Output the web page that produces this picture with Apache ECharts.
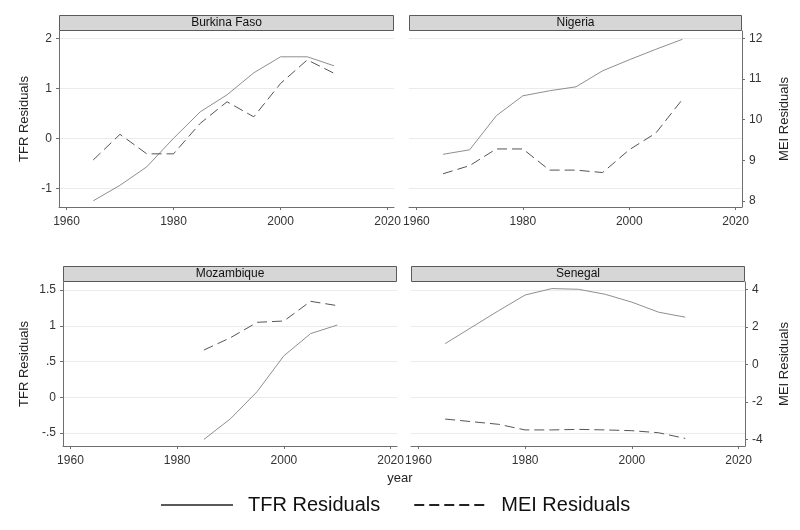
<!DOCTYPE html>
<html>
<head>
<meta charset="utf-8">
<script src="https://cdn.jsdelivr.net/npm/echarts@6/dist/echarts.min.js"></script>
<style>
  html, body { margin: 0; padding: 0; background: #fff; }
  #main { width: 800px; height: 530px; }
</style>
</head>
<body>
<div id="main"></div>
<script>
// data
var countries = ['Burkina Faso', 'Nigeria', 'Mozambique', 'Senegal'];
var years = [1965, 1970, 1975, 1980, 1985, 1990, 1995, 2000, 2005, 2010];

var tfrBurkina = [-1.25, -0.94, -0.57, 0.0, 0.53, 0.87, 1.31, 1.63, 1.63, 1.45];
var meiBurkina = [9.01, 9.64, 9.16, 9.16, 9.91, 10.44, 10.07, 10.89, 11.47, 11.14];
var tfrNigeria = [-0.32, -0.23, 0.45, 0.85, 0.95, 1.03, 1.35, 1.57, 1.78, 1.98];
var meiNigeria = [8.67, 8.87, 9.28, 9.28, 8.76, 8.76, 8.70, 9.26, 9.67, 10.5];
var tfrMozambique = [null, null, null, null, -0.59, -0.30, 0.08, 0.58, 0.89, 1.01];
var meiMozambique = [null, null, null, null, 0.76, 1.42, 2.24, 2.31, 3.36, 3.13];
var tfrSenegal = [0.75, 0.98, 1.21, 1.43, 1.52, 1.51, 1.44, 1.33, 1.19, 1.12];
var meiSenegal = [-2.92, -3.06, -3.2, -3.5, -3.5, -3.47, -3.5, -3.54, -3.65, -3.95];

var xTicks = [1960, 1980, 2000, 2020];
var tfrTicksTop = [-1, 0, 1, 2];
var meiTicksTop = [8, 9, 10, 11, 12];
var tfrTicksBottom = [-0.5, 0, 0.5, 1, 1.5];
var meiTicksBottom = [-4, -2, 0, 2, 4];

var tfrData = [tfrBurkina, tfrNigeria, tfrMozambique, tfrSenegal];
var meiData = [meiBurkina, meiNigeria, meiMozambique, meiSenegal];

var FONT = '"Liberation Sans", Arial, sans-serif';
var AXIS = '#6e6e6e';

// panel boxes (plot regions)
var panels = [
    { left: 59, top: 31, width: 335, height: 176 },
    { left: 409, top: 31, width: 333, height: 176 },
    { left: 63, top: 282, width: 334, height: 164 },
    { left: 411, top: 282, width: 334, height: 164 }
];
// y ranges for each row
var rows = [
    { tMin: -1.374, tMax: 2.146, mMin: 7.853, mMax: 12.18, tTicks: tfrTicksTop, mTicks: meiTicksTop, tGap: 28, mGap: 36 },
    { tMin: -0.682, tMax: 1.612, mMin: -4.357, mMax: 4.39, tTicks: tfrTicksBottom, mTicks: meiTicksBottom, tGap: 32, mGap: 33 }
];

function stataNum(v) {
    return String(v).replace(/^(-?)0\./, '$1.');
}
function pairs(arr) {
    var out = [];
    for (var i = 0; i < years.length; i++) {
        out.push([years[i], arr[i]]);
    }
    return out;
}

var grids = [], xAxes = [], yAxes = [], series = [], graphics = [];

for (var i = 0; i < 4; i++) {
    var p = panels[i];
    var r = rows[Math.floor(i / 2)];
    var isLeft = (i % 2 === 0);

    grids.push({ left: p.left, top: p.top, width: p.width, height: p.height });

    xAxes.push({
        type: 'value', gridIndex: i, min: 1958.6, max: 2021.2,
        axisLine: { show: true, onZero: false, lineStyle: { color: AXIS } },
        axisTick: { show: true, length: 3, customValues: xTicks, lineStyle: { color: AXIS } },
        axisLabel: { customValues: xTicks, margin: 9, color: '#333', fontSize: 12, fontFamily: FONT,
            formatter: function (v) { return String(v); } },
        splitLine: { show: false }
    });

    // TFR (left) axis, gives the grid lines
    yAxes.push({
        type: 'value', gridIndex: i, position: 'left', min: r.tMin, max: r.tMax,
        name: isLeft ? 'TFR Residuals' : '', nameLocation: 'middle', nameGap: r.tGap,
        nameTextStyle: { color: '#222', fontSize: 13, fontFamily: FONT },
        axisLine: { show: isLeft, onZero: false, lineStyle: { color: AXIS } },
        axisTick: { show: isLeft, length: 3, customValues: r.tTicks, lineStyle: { color: AXIS } },
        axisLabel: { show: isLeft, customValues: r.tTicks, margin: 7, color: '#333', fontSize: 12, fontFamily: FONT, formatter: stataNum },
        splitLine: { show: true, lineStyle: { color: '#ebebeb', width: 1 } }
    });

    // MEI (right) axis
    yAxes.push({
        type: 'value', gridIndex: i, position: 'right', min: r.mMin, max: r.mMax,
        show: !isLeft,
        name: isLeft ? '' : 'MEI Residuals', nameLocation: 'middle', nameGap: r.mGap,
        nameTextStyle: { color: '#222', fontSize: 13, fontFamily: FONT },
        axisLine: { show: true, onZero: false, lineStyle: { color: AXIS } },
        axisTick: { show: true, length: 3, customValues: r.mTicks, lineStyle: { color: AXIS } },
        axisLabel: { customValues: r.mTicks, margin: 7, color: '#333', fontSize: 12, fontFamily: FONT, formatter: stataNum },
        splitLine: { show: false }
    });

    series.push({
        name: 'TFR Residuals', type: 'line', xAxisIndex: i, yAxisIndex: 2 * i,
        data: pairs(tfrData[i]), symbol: 'none', silent: true,
        color: '#8f8f8f',
        lineStyle: { color: '#8f8f8f', width: 1 }
    });
    series.push({
        name: 'MEI Residuals', type: 'line', xAxisIndex: i, yAxisIndex: 2 * i + 1,
        data: pairs(meiData[i]), symbol: 'none', silent: true,
        color: '#555',
        lineStyle: { color: '#555', width: 1, type: [10, 5] }
    });

    // strip header
    graphics.push({
        type: 'rect',
        shape: { x: p.left + 0.5, y: p.top - 15.5, width: p.width - 1, height: 15 },
        style: { fill: '#d6d6d6', stroke: '#5a5a5a', lineWidth: 1 }
    });
    graphics.push({
        type: 'text',
        x: p.left + p.width / 2, y: p.top - 8,
        style: { text: countries[i], fill: '#111', font: '12px ' + FONT, textAlign: 'center', textVerticalAlign: 'middle' }
    });
}

graphics.push({
    type: 'text', x: 400, y: 478,
    style: { text: 'year', fill: '#222', font: '13px ' + FONT, textAlign: 'center', textVerticalAlign: 'middle' }
});

var myChart = echarts.init(document.getElementById('main'));

var option = {
    backgroundColor: '#fff',
    animation: false,
    grid: grids,
    xAxis: xAxes,
    yAxis: yAxes,
    legend: {
        data: [
            { name: 'TFR Residuals', lineStyle: { color: '#5a5a5a', width: 2 } },
            { name: 'MEI Residuals', lineStyle: { color: '#222', width: 2 } }
        ],
        left: 155, top: 490,
        itemWidth: 72, itemHeight: 14, itemGap: 33,
        itemStyle: { opacity: 0 },
        textStyle: { color: '#111', fontSize: 20, fontFamily: FONT, padding: [0, 0, 0, 10] },
        selectedMode: false
    },
    graphic: graphics,
    series: series
};

myChart.setOption(option);
</script>
</body>
</html>
